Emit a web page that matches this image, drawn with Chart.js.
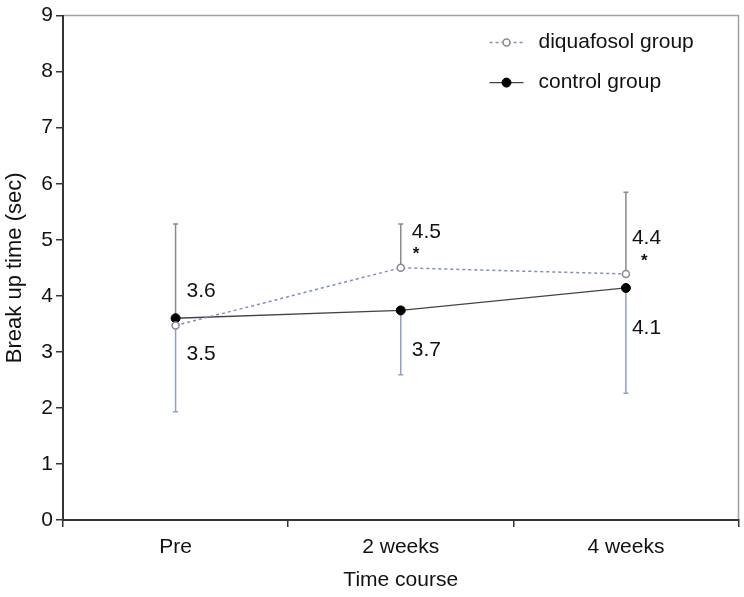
<!DOCTYPE html>
<html>
<head>
<meta charset="utf-8">
<script src="https://cdn.jsdelivr.net/npm/chart.js@4.4.1/dist/chart.umd.min.js"></script>
<style>
  html, body { margin: 0; padding: 0; background: #fff; }
  #wrap { width: 744px; height: 597px; }
</style>
</head>
<body>
<div id="wrap"><canvas id="c" width="744" height="597"></canvas></div>
<script>
// ---- data ----
const categories = ['Pre', '2 weeks', '4 weeks'];
const diquafosolMean = [3.47, 4.50, 4.39];
const controlMean = [3.60, 3.74, 4.14];
// error bars (SD) drawn in one direction only, as in the figure
const diquafosolErrUp = [null, 0.78, 1.46];
const diquafosolErrDown = [1.54, null, null];
const controlErrUp = [1.68, null, null];
const controlErrDown = [null, 1.15, 1.88];
const diquafosolSignificant = [false, true, true];
const yTicks = [0, 1, 2, 3, 4, 5, 6, 7, 8, 9];

const FONT = '"Liberation Sans", Arial, Helvetica, sans-serif';

const errorBarPlugin = {
  id: 'errorBars',
  beforeDatasetsDraw(chart) {
    const ctx = chart.ctx, x = chart.scales.x, y = chart.scales.y;
    const sets = [
      [diquafosolMean, diquafosolErrUp, diquafosolErrDown],
      [controlMean, controlErrUp, controlErrDown]
    ];
    ctx.save();
    ctx.lineWidth = 1.5;
    sets.forEach(([m, up, down]) => {
      m.forEach((v, i) => {
        const px = x.getPixelForValue(i);
        const py = y.getPixelForValue(v);
        if (up[i] != null) {
          const ty = y.getPixelForValue(v + up[i]);
          ctx.strokeStyle = '#8a8a8a';
          ctx.beginPath(); ctx.moveTo(px, py); ctx.lineTo(px, ty);
          ctx.moveTo(px - 2.5, ty); ctx.lineTo(px + 2.5, ty); ctx.stroke();
        }
        if (down[i] != null) {
          const by = y.getPixelForValue(v - down[i]);
          ctx.strokeStyle = '#93a0c6';
          ctx.beginPath(); ctx.moveTo(px, py); ctx.lineTo(px, by);
          ctx.moveTo(px - 2.5, by); ctx.lineTo(px + 2.5, by); ctx.stroke();
        }
      });
    });
    ctx.restore();
  }
};

const framePlugin = {
  id: 'frame',
  beforeDraw(chart) {
    const ctx = chart.ctx, a = chart.chartArea;
    ctx.save();
    ctx.strokeStyle = '#a0a0a0';
    ctx.lineWidth = 1.5;
    ctx.beginPath();
    ctx.moveTo(a.left, a.top); ctx.lineTo(a.right, a.top); ctx.lineTo(a.right, a.bottom);
    ctx.stroke();
    ctx.restore();
  }
};

const labelPlugin = {
  id: 'valueLabels',
  afterDatasetsDraw(chart) {
    const ctx = chart.ctx, x = chart.scales.x, y = chart.scales.y;
    ctx.save();
    ctx.font = '21px ' + FONT;
    ctx.fillStyle = '#111';
    ctx.textBaseline = 'middle';
    ctx.textAlign = 'left';
    const dxs = [11, 11, 6];
    categories.forEach((c, i) => {
      const px = x.getPixelForValue(i);
      const d = diquafosolMean[i], k = controlMean[i];
      const upperIsDiq = d >= k;
      const upV = upperIsDiq ? d : k, loV = upperIsDiq ? k : d;
      const upY = y.getPixelForValue(upV), loY = y.getPixelForValue(loV);
      const upDy = upperIsDiq ? -36 : -27;
      const loDy = upperIsDiq ? 40 : 29;
      ctx.fillText(upV.toFixed(1), px + dxs[i], upY + upDy);
      ctx.fillText(loV.toFixed(1), px + dxs[i], loY + loDy);
      if (diquafosolSignificant[i]) {
        ctx.font = 'bold 17px ' + FONT;
        ctx.fillText('*', px + (i === 2 ? 15 : 12), y.getPixelForValue(d) - 13);
        ctx.font = '21px ' + FONT;
      }
    });
    ctx.restore();
  }
};

const legendPlugin = {
  id: 'customLegend',
  afterDraw(chart) {
    const ctx = chart.ctx, a = chart.chartArea;
    const ds = chart.data.datasets;
    ctx.save();
    ctx.font = '21px ' + FONT;
    ctx.textBaseline = 'middle';
    ctx.textAlign = 'left';
    ds.forEach((d, i) => {
      const yy = a.top + 27 + i * 40;
      const x0 = a.right - 249, x1 = a.right - 215;
      ctx.strokeStyle = d.borderColor;
      ctx.lineWidth = d.borderWidth;
      ctx.setLineDash(d.borderDash || []);
      ctx.beginPath(); ctx.moveTo(x0, yy); ctx.lineTo(x1, yy); ctx.stroke();
      ctx.setLineDash([]);
      ctx.beginPath();
      ctx.arc((x0 + x1) / 2, yy, d.pointRadius, 0, Math.PI * 2);
      ctx.fillStyle = d.pointBackgroundColor;
      ctx.fill();
      ctx.strokeStyle = d.pointBorderColor;
      ctx.lineWidth = d.pointBorderWidth;
      ctx.stroke();
      ctx.fillStyle = '#111';
      ctx.fillText(d.label, a.right - 200, yy);
    });
    ctx.restore();
  }
};

new Chart(document.getElementById('c'), {
  type: 'line',
  data: {
    labels: categories,
    datasets: [
      {
        label: 'diquafosol group',
        data: diquafosolMean,
        borderColor: '#7f8fb9',
        borderWidth: 1.5,
        borderDash: [3, 3],
        pointRadius: 3.5,
        pointBackgroundColor: '#ffffff',
        pointBorderColor: '#8a8a8a',
        pointBorderWidth: 1.5,
        tension: 0
      },
      {
        label: 'control group',
        data: controlMean,
        borderColor: '#444444',
        borderWidth: 1.3,
        pointRadius: 4.5,
        pointBackgroundColor: '#000000',
        pointBorderColor: '#000000',
        pointBorderWidth: 1,
        tension: 0
      }
    ]
  },
  options: {
    responsive: false,
    animation: false,
    devicePixelRatio: 1,
    layout: { padding: { top: 9, right: 3, left: 2, bottom: 0 } },
    plugins: { legend: { display: false }, tooltip: { enabled: false } },
    scales: {
      x: {
        offset: true,
        grid: { offset: true, drawOnChartArea: false, tickLength: 7, color: '#333', lineWidth: 1.5 },
        border: { color: '#333', width: 2 },
        ticks: { font: { size: 21, family: FONT }, color: '#111', padding: 8 },
        title: { display: true, text: 'Time course', font: { size: 21, family: FONT }, color: '#111', padding: { top: 4 } },
        afterFit(s) { s.height = 77; }
      },
      y: {
        min: 0, max: 9,
        afterBuildTicks(s) { s.ticks = yTicks.map(v => ({ value: v })); },
        grid: { drawOnChartArea: false, tickLength: 7, color: '#333', lineWidth: 1.5 },
        border: { color: '#333', width: 2 },
        ticks: { font: { size: 21, family: FONT }, color: '#111', padding: 3 },
        title: { display: true, text: 'Break up time (sec)', font: { size: 22, family: FONT }, color: '#111', padding: 0 },
        afterFit(s) { s.width = 61; }
      }
    }
  },
  plugins: [framePlugin, errorBarPlugin, labelPlugin, legendPlugin]
});
</script>
</body>
</html>
